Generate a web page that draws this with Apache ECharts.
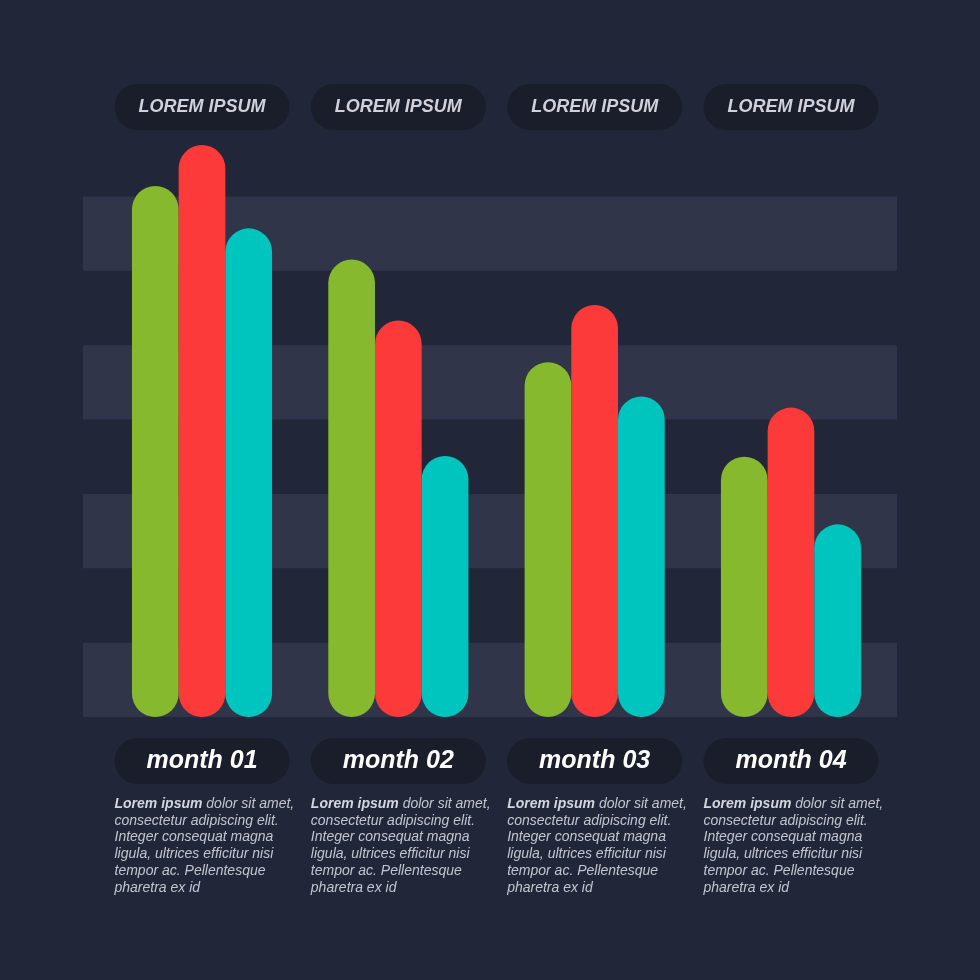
<!DOCTYPE html>
<html>
<head>
<meta charset="utf-8">
<title>month chart</title>
<script src="https://cdn.jsdelivr.net/npm/echarts@6/dist/echarts.min.js"></script>
<style>
    html, body { margin: 0; padding: 0; background: #222639; }
    #main { width: 980px; height: 980px; }
</style>
</head>
<body>
<div id="main"></div>
<script>
// 数据
var months = ['month 01', 'month 02', 'month 03', 'month 04'];
var headers = ['LOREM IPSUM', 'LOREM IPSUM', 'LOREM IPSUM', 'LOREM IPSUM'];
var greenData = [7.14, 6.15, 4.77, 3.50];
var redData = [7.69, 5.33, 5.54, 4.16];
var tealData = [6.57, 3.51, 4.31, 2.59];
var descBold = 'Lorem ipsum';
var descLines = [
    ' dolor sit amet,',
    'consectetur adipiscing elit.',
    'Integer consequat magna',
    'ligula, ultrices efficitur nisi',
    'tempor ac. Pellentesque',
    'pharetra ex id'
];

var font = '"Liberation Sans", Arial, sans-serif';

function descText() {
    var s = '{b|' + descBold + '}{t|' + descLines[0] + '}';
    for (var i = 1; i < descLines.length; i++) {
        s += '\n{t|' + descLines[i] + '}';
    }
    return s;
}

var myChart = echarts.init(document.getElementById('main'));

var option = {
    backgroundColor: '#222639',
    animation: false,
    grid: [
        // 背景条纹
        { left: 83, right: 83, top: 122, bottom: 263, outerBoundsMode: 'none' },
        // 柱子
        { left: 103.85, right: 90.85, top: 122, bottom: 263, outerBoundsMode: 'none' }
    ],
    xAxis: [
        { gridIndex: 0, type: 'value', min: 0, max: 1, show: false },
        {
            gridIndex: 1,
            type: 'category',
            position: 'bottom',
            data: months,
            axisLine: { show: false },
            axisTick: { show: false },
            axisLabel: {
                interval: 0,
                margin: 21,
                color: '#ffffff',
                fontFamily: font,
                fontSize: 25,
                fontWeight: 'bold',
                fontStyle: 'italic',
                backgroundColor: '#1a1d2a',
                borderRadius: 23,
                width: 175,
                height: 46,
                lineHeight: 46,
                align: 'center'
            }
        },
        {
            gridIndex: 1,
            type: 'category',
            position: 'bottom',
            data: months,
            axisLine: { show: false },
            axisTick: { show: false },
            axisLabel: {
                interval: 0,
                margin: 78.6,
                width: 175,
                align: 'center',
                formatter: function () { return descText(); },
                rich: {
                    b: {
                        fontFamily: font, fontSize: 14, fontWeight: 'bold', fontStyle: 'italic',
                        color: '#d4d6de', lineHeight: 16.8, align: 'left'
                    },
                    t: {
                        fontFamily: font, fontSize: 14, fontStyle: 'italic',
                        color: '#c3c6d0', lineHeight: 16.8, align: 'left'
                    }
                }
            }
        },
        {
            gridIndex: 1,
            type: 'category',
            position: 'top',
            data: months,
            axisLine: { show: false },
            axisTick: { show: false },
            axisLabel: {
                interval: 0,
                margin: 15,
                verticalAlign: 'middle',
                formatter: function (v, i) { return headers[i]; },
                color: '#cfd2da',
                fontFamily: font,
                fontSize: 18,
                fontWeight: 'bold',
                fontStyle: 'italic',
                backgroundColor: '#1a1d2a',
                borderRadius: 23,
                width: 175,
                height: 46,
                lineHeight: 46,
                align: 'center'
            }
        }
    ],
    yAxis: [
        {
            gridIndex: 0,
            type: 'value',
            min: 0,
            max: 8,
            interval: 1,
            axisLine: { show: false },
            axisTick: { show: false },
            axisLabel: { show: false },
            splitLine: { show: false },
            splitArea: {
                show: true,
                areaStyle: { color: ['#30354a', 'rgba(0,0,0,0)'] }
            }
        },
        {
            gridIndex: 1,
            type: 'value',
            min: 0,
            max: 8,
            interval: 1,
            show: false
        }
    ],
    series: [
        {
            name: 'green',
            type: 'bar',
            xAxisIndex: 1,
            yAxisIndex: 1,
            data: greenData,
            barWidth: 46.7,
            barGap: '0%',
            itemStyle: { color: '#86b92e', borderRadius: 23.35 }
        },
        {
            name: 'red',
            type: 'bar',
            xAxisIndex: 1,
            yAxisIndex: 1,
            data: redData,
            barWidth: 46.7,
            barGap: '0%',
            itemStyle: { color: '#fd3a3a', borderRadius: 23.35 }
        },
        {
            name: 'teal',
            type: 'bar',
            xAxisIndex: 1,
            yAxisIndex: 1,
            data: tealData,
            barWidth: 46.7,
            barGap: '0%',
            itemStyle: { color: '#00c5be', borderRadius: 23.35 }
        }
    ]
};

myChart.setOption(option);
</script>
</body>
</html>
